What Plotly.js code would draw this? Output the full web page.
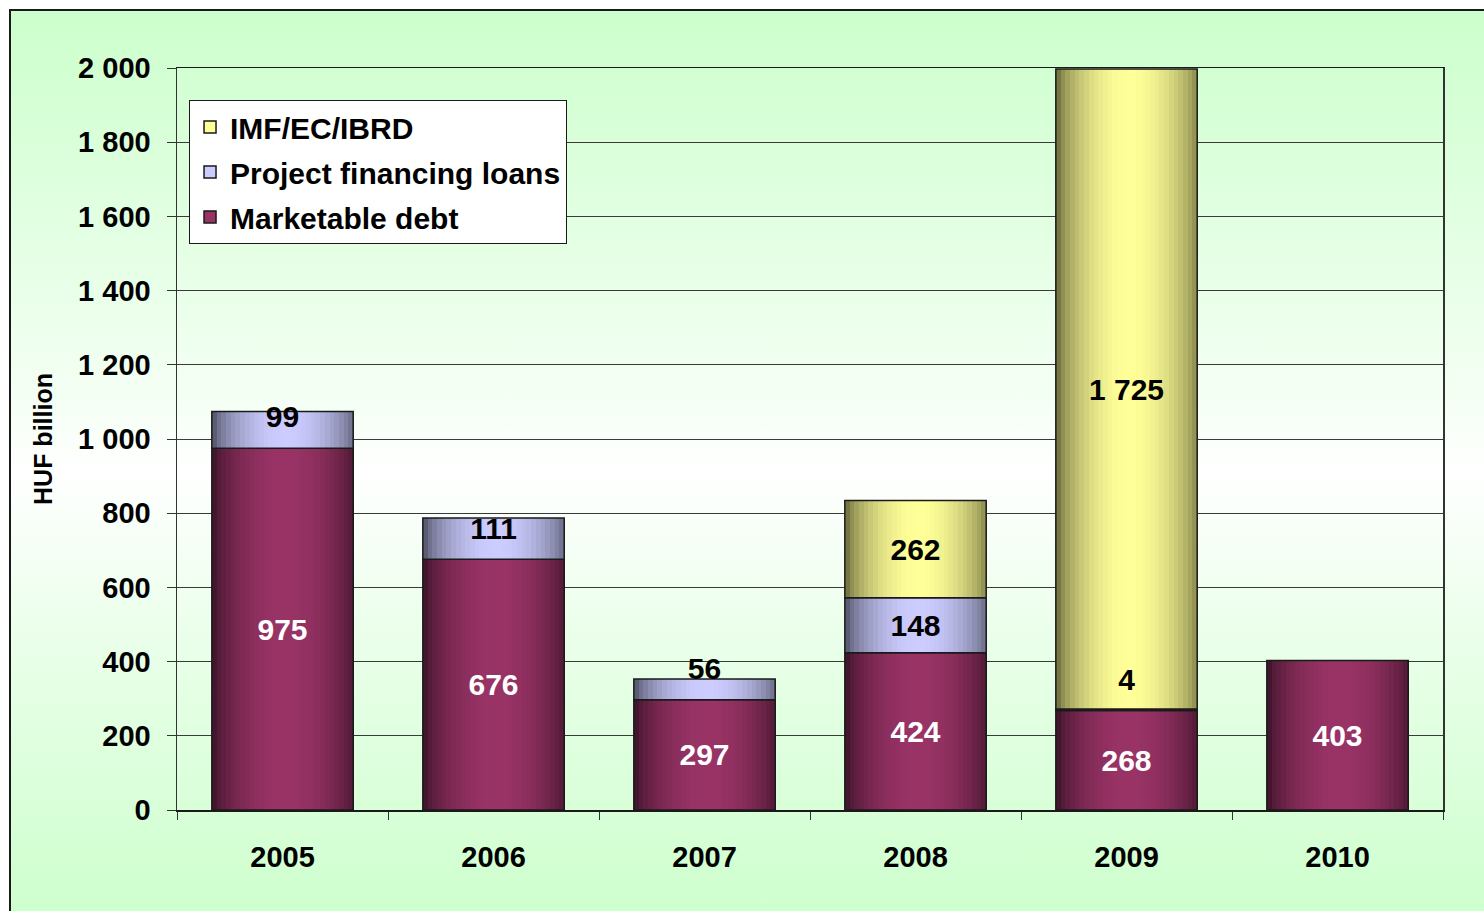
<!DOCTYPE html>
<html>
<head>
<meta charset="utf-8">
<script src="https://cdn.plot.ly/plotly-3.0.1.min.js"></script>
<style>
  html, body { margin: 0; padding: 0; background: #ffffff; width: 1484px; height: 911px; overflow: hidden; }
  #frame { position: absolute; left: 9px; top: 9px; width: 1490px; height: 920px;
           border-left: 2px solid #1a1a1a; border-top: 2px solid #1a1a1a;
           background: linear-gradient(to bottom, #ccffcc 0%, #f4fff4 42%, #ffffff 50%, #e8ffe8 70%, #ccffcc 100%); }
  #chart { position: absolute; left: 0; top: 0; width: 1484px; height: 911px; }
</style>
</head>
<body>
<div id="frame"></div>
<div id="chart"></div>
<script>
// ---- data ----
const years = ['2005', '2006', '2007', '2008', '2009', '2010'];
const marketableDebt = [975, 676, 297, 424, 268, 403];
const projectLoans = [99, 111, 56, 148, 4, 0];
const imfEcIbrd = [0, 0, 0, 262, 1725, 0];
const seriesNames = ['Marketable debt', 'Project financing loans', 'IMF/EC/IBRD'];
const yTicks = [0, 200, 400, 600, 800, 1000, 1200, 1400, 1600, 1800, 2000];

// ---- style ----
const FONT = 'Liberation Sans, Arial, Helvetica, sans-serif';
const styles = [
  { base: [153, 51, 102], dark: [68, 22, 46], label: '#ffffff' },
  { base: [204, 204, 255], dark: [90, 92, 115], label: '#000000' },
  { base: [255, 255, 153], dark: [118, 118, 66], label: '#000000' }
];
// label pixel shifts for thin segments (series index -> category -> px upward)
const labelShift = { 1: { '2005': 13, '2006': 10, '2007': 21, '2009': 30 } };
const LABEL_BASE_SHIFT = -3;
const Y_MAX = 2000, PLOT_H = 911 - 68 - 101;

const values = [marketableDebt, projectLoans, imfEcIbrd];
const bases = [
  years.map(() => 0),
  marketableDebt.slice(),
  marketableDebt.map((v, i) => v + projectLoans[i])
];

const W = 0.67, N = 30;
function shade(s, t) {
  const g = Math.pow(Math.max(0, Math.cos((t - 0.52) * Math.PI)), 0.7);
  const c = styles[s].base.map((b, k) => Math.round(styles[s].dark[k] + (b - styles[s].dark[k]) * g));
  return 'rgb(' + c.join(',') + ')';
}

const traces = [];
// legend entries (top to bottom: IMF, Project, Marketable)
[2, 1, 0].forEach((s, gi) => {
  traces.push({
    type: 'bar', name: seriesNames[s], x: [years[0]], y: [null],
    legendgroup: 'g' + gi, showlegend: true, hoverinfo: 'skip',
    marker: { color: 'rgb(' + styles[s].base.join(',') + ')', line: { color: '#1a1a1a', width: 1.5 } }
  });
});

for (let s = 0; s < 3; s++) {
  const xs = [], ys = [], bs = [];
  years.forEach((yr, i) => { if (values[s][i] > 0) { xs.push(yr); ys.push(values[s][i]); bs.push(bases[s][i]); } });
  for (let k = 0; k < N; k++) {
    const t = (k + 0.5) / N;
    traces.push({
      type: 'bar', x: xs, y: ys, base: bs, showlegend: false, hoverinfo: 'skip',
      offset: -W / 2 + k * W / N, width: W / N * 1.15,
      marker: { color: shade(s, t), line: { width: 0 } }
    });
  }
  traces.push({
    type: 'bar', x: xs, y: ys, base: bs, showlegend: false, name: seriesNames[s],
    offset: -W / 2, width: W,
    marker: { color: 'rgba(0,0,0,0)', line: { color: '#1a1a1a', width: 1.5 } },
    hoverinfo: 'skip'
  });
}

// value labels as text traces
function fmt(v) { return String(v).replace(/\B(?=(\d{3})+(?!\d))/g, '\u00a0'); }
for (let s = 0; s < 3; s++) {
  const xs = [], ys = [], txt = [];
  years.forEach((yr, i) => {
    const v = values[s][i];
    if (v <= 0) return;
    const shiftPx = ((labelShift[s] && labelShift[s][yr]) || 0) + LABEL_BASE_SHIFT;
    xs.push(yr);
    ys.push(bases[s][i] + v / 2 + shiftPx * Y_MAX / PLOT_H);
    txt.push(fmt(v));
  });
  traces.push({
    type: 'scatter', mode: 'text', x: xs, y: ys, text: txt, textposition: 'middle center',
    showlegend: false, hoverinfo: 'skip', cliponaxis: false,
    textfont: { family: FONT, size: 30, weight: 'bold', color: styles[s].label }
  });
}

const layout = {
  width: 1484, height: 911,
  margin: { l: 177, r: 41, t: 68, b: 101 },
  paper_bgcolor: 'rgba(0,0,0,0)', plot_bgcolor: 'rgba(0,0,0,0)',
  barmode: 'overlay', bargap: 0,
  separators: '. ',
  font: { family: FONT, size: 29, weight: 'bold', color: '#000000' },
  xaxis: {
    type: 'category', categoryorder: 'array', categoryarray: years,
    showline: true, linecolor: '#1a1a1a', linewidth: 1.5, mirror: true,
    ticks: 'outside', tickson: 'boundaries', ticklen: 8, tickcolor: '#333333', tickwidth: 1,
    showgrid: false, ticklabelstandoff: 21,
    tickfont: { family: FONT, size: 29, weight: 'bold', color: '#000000' },
    range: [-0.5, 5.5], fixedrange: true
  },
  yaxis: {
    range: [0, Y_MAX], tickvals: yTicks, separatethousands: true, tickformat: ',d',
    showline: true, linecolor: '#333333', linewidth: 1.5, mirror: true,
    ticks: 'outside', ticklen: 9, tickcolor: '#333333', tickwidth: 1,
    showgrid: true, gridcolor: '#3a3a3a', gridwidth: 1, zeroline: false,
    ticklabelstandoff: 10,
    tickfont: { family: FONT, size: 29, weight: 'bold', color: '#000000' },
    title: { text: 'HUF billion', standoff: 18, font: { family: FONT, size: 25, weight: 'bold', color: '#000000' } },
    fixedrange: true
  },
  legend: {
    x: 0.0095, y: 0.957, xanchor: 'left', yanchor: 'top',
    bgcolor: '#ffffff', bordercolor: '#1a1a1a', borderwidth: 1,
    font: { family: FONT, size: 30, weight: 'bold', color: '#000000' },
    traceorder: 'grouped', tracegroupgap: 3, itemwidth: 30
  },
  showlegend: true
};

Plotly.newPlot('chart', traces, layout, { displayModeBar: false, staticPlot: true });
</script>
</body>
</html>
